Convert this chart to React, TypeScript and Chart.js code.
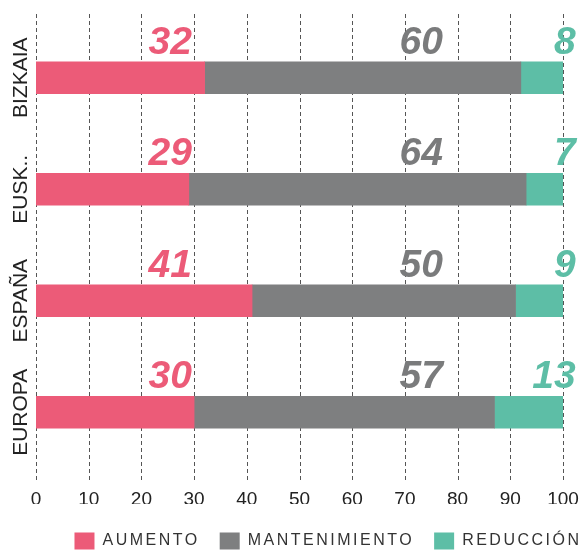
import React, { useEffect, useRef } from 'react';
import { Chart, registerables } from 'chart.js';

Chart.register(...registerables);

// ---- data ----
const categories = ['BIZKAIA', 'EUSK..', 'ESPAÑA', 'EUROPA'];
const seriesNames = ['AUMENTO', 'MANTENIMIENTO', 'REDUCCIÓN'];
const aumento = [32, 29, 41, 30];
const mantenimiento = [60, 64, 50, 57];
const reduccion = [8, 7, 9, 13];
const xMin = 0;
const xMax = 100;
const xStep = 10;

// ---- styles ----
const BAR_COLORS = ['#EC5B78', '#7E7F80', '#5DBEA6'];
const LABEL_COLORS = ['#EC5B78', '#7A7B7C', '#5DBEA6'];
// x-value where each series' big value label is right-aligned
const LABEL_ANCHOR = [29.6, 77.2, 102.4];
const FONT = 'Arial, "Liberation Sans", Helvetica, sans-serif';

const gridPlugin = {
  id: 'dashedGrid',
  beforeDatasetsDraw(chart: any) {
    const x = chart.scales.x;
    const { top, bottom } = chart.chartArea;
    const ctx = chart.ctx;
    ctx.save();
    ctx.strokeStyle = '#555';
    ctx.lineWidth = 1;
    ctx.setLineDash([4, 3]);
    ctx.beginPath();
    x.ticks.forEach((t: any) => {
      const px = Math.round(x.getPixelForValue(t.value)) + 0.5;
      ctx.moveTo(px, top - 8);
      ctx.lineTo(px, bottom + 12);
    });
    ctx.stroke();
    ctx.restore();
  },
};

const valueLabelPlugin = {
  id: 'valueLabels',
  afterDatasetsDraw(chart: any) {
    const ctx = chart.ctx;
    const x = chart.scales.x;
    ctx.save();
    ctx.letterSpacing = '0px';
    ctx.font = `italic bold 39px ${FONT}`;
    ctx.textAlign = 'right';
    ctx.textBaseline = 'alphabetic';
    chart.data.datasets.forEach((ds: any, d: number) => {
      const meta = chart.getDatasetMeta(d);
      ctx.fillStyle = LABEL_COLORS[d];
      meta.data.forEach((bar: any, i: number) => {
        ctx.fillText(String(ds.data[i]), x.getPixelForValue(LABEL_ANCHOR[d]), bar.y - 24);
      });
    });
    ctx.restore();
  },
};

const yLabelPlugin = {
  id: 'yLabels',
  afterDraw(chart: any) {
    const ctx = chart.ctx;
    const y = chart.scales.y;
    const left = chart.chartArea.left;
    ctx.save();
    ctx.letterSpacing = '0px';
    ctx.font = `21px ${FONT}`;
    ctx.fillStyle = '#222';
    ctx.textAlign = 'center';
    ctx.textBaseline = 'middle';
    categories.forEach((c, i) => {
      const py = y.getPixelForValue(i);
      ctx.save();
      ctx.translate(left - 15, py);
      ctx.rotate(-Math.PI / 2);
      ctx.fillText(c, 0, 0);
      ctx.restore();
    });
    ctx.restore();
  },
};

const legendShiftPlugin = {
  id: 'legendShift',
  afterLayout(chart: any) {
    const l = chart.legend;
    if (!l) return;
    l.left += 36;
    l.right += 36;
    l.top += 8.5;
    l.bottom += 8.5;
  },
};

export default function App() {
  const ref = useRef<HTMLCanvasElement>(null);

  useEffect(() => {
    if (!ref.current) return;
    const series = [aumento, mantenimiento, reduccion];
    const chart = new Chart(ref.current, {
      type: 'bar',
      data: {
        labels: categories,
        datasets: series.map((data, d) => ({
          label: seriesNames[d],
          data,
          backgroundColor: BAR_COLORS[d],
          borderWidth: 0,
          barThickness: 32,
        })),
      },
      options: {
        indexAxis: 'y',
        animation: false,
        responsive: false,
        layout: { padding: { top: 22, left: 0, right: 0, bottom: 0 } },
        scales: {
          x: {
            stacked: true,
            min: xMin,
            max: xMax,
            grid: { display: false, drawTicks: false },
            border: { display: false },
            ticks: {
              stepSize: xStep,
              padding: 20.6,
              color: '#222',
              font: { family: FONT, size: 19 },
            },
            afterFit: (s: any) => {
              s.height = 36;
              s.paddingRight = 21;
            },
          },
          y: {
            stacked: true,
            display: true,
            grid: { display: false, drawTicks: false },
            border: { display: false },
            ticks: { display: false },
            afterFit: (s: any) => {
              s.width = 36;
            },
          },
        },
        plugins: {
          tooltip: { enabled: false },
          legend: {
            position: 'bottom',
            align: 'center',
            labels: {
              boxWidth: 20,
              boxHeight: 17,
              padding: 20,
              color: '#333',
              font: { family: FONT, size: 16 },
            },
          },
        },
      },
      plugins: [gridPlugin, valueLabelPlugin, yLabelPlugin, legendShiftPlugin],
    } as any);

    const legend: any = (chart as any).legend;
    if (legend) {
      const origFit = legend.fit;
      legend.fit = function (...args: any[]) {
        const c = this.ctx;
        c.save();
        c.letterSpacing = '2.5px';
        const r = origFit.apply(this, args);
        c.restore();
        return r;
      };
      const origDraw = legend.draw;
      legend.draw = function (...args: any[]) {
        const c = this.ctx;
        c.save();
        c.letterSpacing = '2.5px';
        const r = origDraw.apply(this, args);
        c.restore();
        return r;
      };
      chart.update();
    }

    return () => chart.destroy();
  }, []);

  return (
    <div style={{ position: 'fixed', left: 0, top: 0, width: 584, height: 551, background: '#fff' }}>
      <canvas ref={ref} width={584} height={551} style={{ display: 'block' }} />
    </div>
  );
}
